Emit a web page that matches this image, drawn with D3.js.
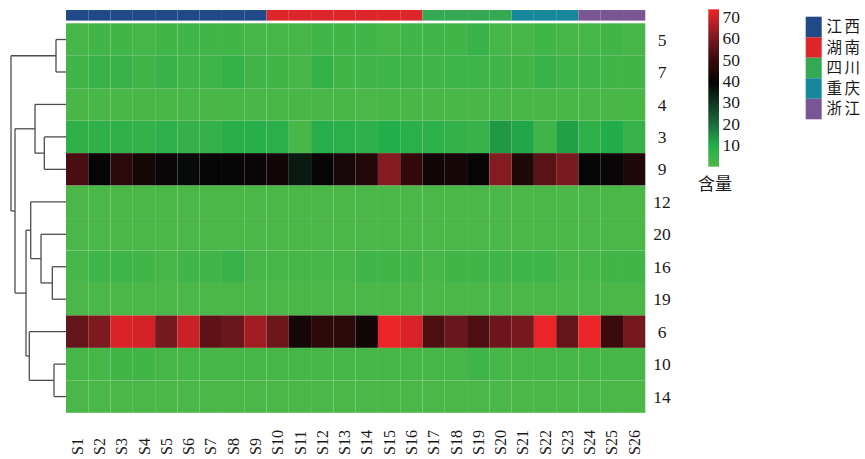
<!DOCTYPE html>
<html><head><meta charset="utf-8">
<script src="https://cdn.jsdelivr.net/npm/d3@7"></script>
<style>body{margin:0;background:#fff}svg{display:block}</style>
</head><body>
<script>
const samples = d3.range(1, 27).map(i => "S" + i);
const rowLabels = ["5","7","4","3","9","12","20","16","19","6","10","14"];
const groupNames = ["江西","湖南","四川","重庆","浙江"];
const groupColors = ["#1f4a87","#dc2629","#34a853","#17889b","#7a5594"];
const sampleGroup = [0,0,0,0,0,0,0,0,0, 1,1,1,1,1,1,1, 2,2,2,2, 3,3,3, 4,4,4];
const legendTicks = [10,20,30,40,50,60,70];
const legendTitle = "含量";

const row5  = [2,3,3,2,3,3,3,3,2,2,2,3,3,3,2,3,3,3,5,2,2,3,2,2,3,2];
const row7  = [3,5,5,3,5,4,4,6,3,3,2,6,3,3,4,4,3,4,4,4,3,5,4,4,3,3];
const row4  = [1.5,1.5,1.5,1.5,1.5,1.5,1.5,1.5,1.5,1.5,1.5,1.5,1.5,1,1.5,1.5,1.5,1.5,1.5,1.5,1.5,1.5,1.5,1.5,1.5,1.5];
const row3  = [7,7,7,6,7.5,6,6,8.5,8.5,8,1.5,9,8,7.5,9.5,8,7.5,6,5,13,11,4,12,7,10,5.5];
const row9  = [52.5,39,47,42.5,40,38,39,39,40,42,35,39,43,45,61,48.5,41.5,42.5,39,61,44.5,54.8,59.7,39,40,44.5];
const row12 = [1,1,1,1,1,1,1,1,1,1,1,1,1,1,1,1,1,1,1,1,1,1,1,1,1,1];
const row20 = [1,1,1,1,1,1,1,1,1,1,1,1,1,1,1,1,1,1,1,1,1,1,1,1,1,1];
const row16 = [2,4,4,3,2,3,3,5,2,2,2,2,2,4,3,3,2,3,3,4,4,4,2,2,3,3];
const row19 = [1,1,1,1,1,1,1,1,1,1,1,1,1,1,1,1,1,1,1,1,1,1,1,1,1,1];
const row6  = [56.6,60.3,71.2,70.2,59.1,69.1,55.5,57.7,64.6,58.1,42.3,47,47,41.7,73,71,53,57.7,53,57.8,59.4,73,56.6,73.2,50.3,59];
const row10 = [2,2,3,3,2,2,2,2,2,2,2,2,2,2,2,2,2,2,4,2,2,2,2,2,2,2];
const row14 = [1,1,1,1,1,1,1,1,1,1,1,1,1,1,1,1,1,1,1,1,1,1,1,1,1,1];
const matrix = [row5,row7,row4,row3,row9,row12,row20,row16,row19,row6,row10,row14];

// row dendrogram (heights)
const rowTree = {h:55, c:[
  {h:10, c:["5","7"]},
  {h:51, c:[
    {h:31, c:["4", {h:21.7, c:["3","9"]}]},
    {h:40, c:[
      {h:35.3, c:["12", {h:25, c:["20", {h:13.7, c:["16","19"]}]}]},
      {h:36.7, c:["6", {h:12, c:["10","14"]}]}
    ]}
  ]}
]};

const W = 865, H = 459;
const svg = d3.select("body").append("svg").attr("width", W).attr("height", H);

const x = d3.scaleBand().domain(samples).range([66, 645.3]);
const y = d3.scaleBand().domain(rowLabels).range([23.3, 412.8]);
const valMax = 73.4;
const color = d3.scaleLinear()
  .domain([0, 10, 20, 30, 39, 50, 60, valMax])
  .range(["#50b848", "#22ad4a", "#1b6b38", "#0f3520", "#050505", "#3a0a0c", "#7a1a1f", "#ee2429"])
  .interpolate(d3.interpolateRgb);

// annotation bar
svg.append("g").selectAll("rect").data(samples).join("rect")
  .attr("x", d => x(d)).attr("width", x.bandwidth())
  .attr("y", 10).attr("height", 10.6)
  .attr("fill", (d, i) => groupColors[sampleGroup[i]])
  .attr("stroke", "rgba(255,255,255,0.06)").attr("stroke-width", 0.5);

// heatmap cells
const cells = [];
matrix.forEach((row, r) => row.forEach((v, c) => cells.push({r: rowLabels[r], c: samples[c], v})));
svg.append("g").selectAll("rect").data(cells).join("rect")
  .attr("x", d => x(d.c)).attr("y", d => y(d.r))
  .attr("width", x.bandwidth()).attr("height", y.bandwidth())
  .attr("fill", d => color(d.v))
  .attr("stroke", "rgba(255,255,255,0.03)").attr("stroke-width", 0.5);

// row labels
svg.append("g").selectAll("text").data(rowLabels).join("text")
  .attr("x", 662).attr("y", d => y(d) + y.bandwidth() / 2)
  .attr("dy", "0.35em").attr("text-anchor", "middle")
  .attr("font-family", "'Liberation Serif', serif").attr("font-size", 17.5)
  .attr("fill", "#1a1a1a").text(d => d);

// column labels
svg.append("g").selectAll("text").data(samples).join("text")
  .attr("transform", d => `translate(${x(d) + x.bandwidth() / 2},455) rotate(-90)`)
  .attr("dy", "0.35em").attr("text-anchor", "start")
  .attr("font-family", "'Liberation Serif', serif").attr("font-size", 16)
  .attr("fill", "#1a1a1a").text(d => d);

// dendrogram
const hx = d3.scaleLinear().domain([0, 55]).range([66, 11]);
const dg = svg.append("g").attr("fill", "none").attr("stroke", "#4d4d4d").attr("stroke-width", 1.3);
function layout(node) {
  if (typeof node === "string") return {x: hx(0), y: y(node) + y.bandwidth() / 2};
  const kids = node.c.map(layout);
  const nx = hx(node.h);
  kids.forEach(k => dg.append("path").attr("d", d3.line()([[k.x, k.y], [nx, k.y]])));
  dg.append("path").attr("d", d3.line()([[nx, kids[0].y], [nx, kids[1].y]]));
  return {x: nx, y: (kids[0].y + kids[1].y) / 2};
}
layout(rowTree);

// colour legend
const ly = d3.scaleLinear().domain([0, valMax]).range([166.7, 9.3]);
const defs = svg.append("defs");
const grad = defs.append("linearGradient").attr("id", "lg").attr("x1", 0).attr("y1", 1).attr("x2", 0).attr("y2", 0);
color.domain().forEach(v => grad.append("stop").attr("offset", v / valMax).attr("stop-color", color(v)));
svg.append("rect").attr("x", 708.3).attr("width", 10.7)
  .attr("y", ly(valMax)).attr("height", ly(0) - ly(valMax)).attr("fill", "url(#lg)");
svg.append("g").selectAll("text").data(legendTicks).join("text")
  .attr("x", 722.5).attr("y", d => ly(d)).attr("dy", "0.35em")
  .attr("font-family", "'Liberation Serif', serif").attr("font-size", 17.5)
  .attr("fill", "#1a1a1a").text(d => d);
svg.append("text").attr("x", 715).attr("y", 184).attr("dy", "0.35em").attr("text-anchor", "middle")
  .attr("font-family", "'Noto Sans CJK SC', sans-serif").attr("font-size", 17)
  .attr("fill", "#1a1a1a").text(legendTitle);

// group legend
const gy = d3.scaleBand().domain(groupNames).range([16.7, 119.3]);
svg.append("g").selectAll("rect").data(groupNames).join("rect")
  .attr("x", 805.7).attr("width", 16).attr("y", d => gy(d)).attr("height", gy.bandwidth())
  .attr("fill", (d, i) => groupColors[i]);
svg.append("g").selectAll("text").data(groupNames).join("text")
  .attr("x", 826.5).attr("y", d => gy(d) + gy.bandwidth() / 2).attr("dy", "0.35em")
  .attr("font-family", "'Noto Sans CJK SC', sans-serif").attr("font-size", 15.5)
  .attr("letter-spacing", 2.5).attr("fill", "#1a1a1a").text(d => d);
</script>
</body></html>
